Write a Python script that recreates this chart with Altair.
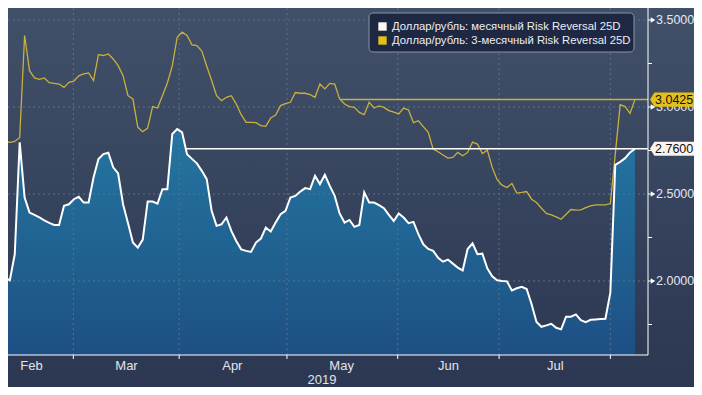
import altair as alt
import pandas as pd

# ---------------- data ----------------
series_names = [
    "Доллар/рубль: месячный Risk Reversal 25D",
    "Доллар/рубль: 3-месячный Risk Reversal 25D",
]

white_vals = [
    2.029, 2.019, 2.004, 2.154, 2.797, 2.480, 2.393, 2.380, 2.365, 2.349,
    2.334, 2.322, 2.322, 2.432, 2.441, 2.470, 2.484, 2.451, 2.451, 2.595,
    2.701, 2.729, 2.737, 2.653, 2.618, 2.441, 2.334, 2.221, 2.192, 2.238,
    2.457, 2.457, 2.445, 2.528, 2.528, 2.845, 2.873, 2.854, 2.729, 2.702,
    2.676, 2.633, 2.585, 2.403, 2.317, 2.326, 2.365, 2.288, 2.230, 2.182,
    2.173, 2.167, 2.221, 2.244, 2.307, 2.284, 2.336, 2.384, 2.403, 2.480,
    2.489, 2.514, 2.534, 2.528, 2.605, 2.557, 2.610, 2.547, 2.489, 2.388,
    2.336, 2.351, 2.311, 2.322, 2.509, 2.451, 2.451, 2.436, 2.418, 2.380,
    2.345, 2.388, 2.365, 2.332, 2.340, 2.269, 2.211, 2.184, 2.173, 2.134,
    2.111, 2.123, 2.100, 2.077, 2.061, 2.184, 2.217, 2.154, 2.157, 2.073,
    2.027, 2.004, 2.000, 1.998, 1.946, 1.958, 1.967, 1.954, 1.866, 1.764,
    1.737, 1.745, 1.754, 1.731, 1.722, 1.795, 1.795, 1.808, 1.775, 1.764,
    1.777, 1.779, 1.781, 1.783, 1.933, 2.668, 2.685, 2.706, 2.739, 2.760,
]

yellow_vals = [
    2.806, 2.802, 2.797, 2.802, 2.825, 3.411, 3.209, 3.167, 3.159, 3.167,
    3.140, 3.136, 3.132, 3.113, 3.142, 3.148, 3.179, 3.190, 3.196, 3.152,
    3.301, 3.296, 3.305, 3.276, 3.238, 3.180, 3.065, 3.046, 2.883, 2.858,
    2.879, 3.002, 2.994, 3.065, 3.138, 3.236, 3.401, 3.430, 3.411, 3.357,
    3.353, 3.321, 3.234, 3.152, 3.065, 3.036, 3.056, 3.065, 3.017, 2.956,
    2.912, 2.912, 2.910, 2.893, 2.889, 2.937, 2.954, 3.008, 3.019, 3.027,
    3.083, 3.079, 3.079, 3.071, 3.056, 3.132, 3.104, 3.136, 3.132, 3.046,
    3.017, 3.002, 2.998, 2.969, 2.956, 3.027, 2.994, 3.006, 2.998, 2.979,
    2.971, 2.960, 2.994, 2.983, 2.910, 2.921, 2.887, 2.854, 2.758, 2.743,
    2.724, 2.706, 2.710, 2.739, 2.720, 2.739, 2.798, 2.787, 2.733, 2.752,
    2.653, 2.582, 2.551, 2.537, 2.560, 2.505, 2.509, 2.514, 2.470, 2.451,
    2.418, 2.388, 2.380, 2.369, 2.355, 2.384, 2.411, 2.407, 2.409, 2.422,
    2.432, 2.438, 2.438, 2.438, 2.445, 2.729, 3.013, 3.002, 2.964, 3.0425,
]

month_names = ["Feb", "Mar", "Apr", "May", "Jun", "Jul"]
month_label_pos = [6.4, 25.7, 47.2, 69.4, 91.1, 112.8]     # in observation index units
month_start_pos = [14.9, 36.4, 58.3, 80.8, 101.4, 124.0]  # month boundaries (index units)
year_label = ["2019"]
year_label_pos = [65.4]
y_major = [2.0, 2.5, 3.0, 3.5]
y_minor = [1.75, 2.25, 2.75, 3.25]
X_DOMAIN = [1.625, 131.65]
Y_DOMAIN = [1.5747, 3.569]

# ---------------- layout / style ----------------
W, H = 640, 347
PR, PB = 46, 32
FONT = "Liberation Sans"
YELLOW_LINE = "#c9b13b"
YELLOW_BOX = "#e2c11c"
GRID = "#5d6f90"

xs = alt.Scale(domain=X_DOMAIN, nice=False, zero=False)
ys = alt.Scale(domain=Y_DOMAIN, nice=False, zero=False)


def X(f):
    return alt.X(f, type="quantitative", scale=xs, axis=None)


def Y(f):
    return alt.Y(f, type="quantitative", scale=ys, axis=None)


df = pd.DataFrame({"i": list(range(len(white_vals))), "white": white_vals, "yellow": yellow_vals})
one = pd.DataFrame({"k": [0]})


def cross_start(vals):
    last = vals[-1]
    for k in range(len(vals) - 2, -1, -1):
        if vals[k] >= last:
            return k + (vals[k] - last) / (vals[k] - vals[k + 1])
    return 0


last_df_w = pd.DataFrame({"start": [cross_start(white_vals)], "v": [white_vals[-1]],
                          "lab": [f"{white_vals[-1]:.4f}"]})
last_df_y = pd.DataFrame({"start": [cross_start(yellow_vals)], "v": [yellow_vals[-1]],
                          "lab": [f"{yellow_vals[-1]:.4f}"]})

bg = alt.Chart(one).mark_rect(
    color=alt.Gradient(gradient="linear",
                       stops=[alt.GradientStop(color="#415069", offset=0),
                              alt.GradientStop(color="#2c3752", offset=1)],
                       x1=0, x2=0, y1=0, y2=1)
).encode(x=alt.value(0), x2=alt.value(W + PR), y=alt.value(0), y2=alt.value(H + PB))

area = alt.Chart(df).mark_area(
    clip=True,
    color=alt.Gradient(gradient="linear",
                       stops=[alt.GradientStop(color="#2476a2", offset=0),
                              alt.GradientStop(color="#1f5d8d", offset=0.3),
                              alt.GradientStop(color="#1c3b78", offset=0.66),
                              alt.GradientStop(color="#1b1e5b", offset=1)],
                       x1=0, x2=0, y1=0, y2=1)
).encode(x=X("i"), y=Y("white"), y2=alt.value(H))

grid_h = alt.Chart(pd.DataFrame({"v": y_major})).mark_rule(
    strokeDash=[2, 3], color=GRID, strokeWidth=1
).encode(y=Y("v"), x=alt.value(0), x2=alt.value(W))

grid_v = alt.Chart(pd.DataFrame({"m": month_start_pos})).mark_rule(
    strokeDash=[2, 3], color=GRID, strokeWidth=1
).encode(x=X("m"), y=alt.value(0), y2=alt.value(H))

line_y = alt.Chart(df).mark_line(clip=True, color=YELLOW_LINE, strokeWidth=1.3).encode(x=X("i"), y=Y("yellow"))
line_w = alt.Chart(df).mark_line(clip=True, color="#ffffff", strokeWidth=2).encode(x=X("i"), y=Y("white"))

last_rule_w = alt.Chart(last_df_w).mark_rule(color="#ffffff", strokeWidth=1.5).encode(
    x=X("start"), x2=alt.value(W), y=Y("v"))
last_rule_y = alt.Chart(last_df_y).mark_rule(color=YELLOW_LINE, strokeWidth=1.5).encode(
    x=X("start"), x2=alt.value(W), y=Y("v"))

axis_right = alt.Chart(one).mark_rule(color="#ffffff", strokeWidth=1).encode(
    x=alt.value(W), y=alt.value(0), y2=alt.value(H))
axis_bottom = alt.Chart(one).mark_rule(color="#ffffff", strokeWidth=1).encode(
    x=alt.value(0), x2=alt.value(W), y=alt.value(H))

ticks_x = alt.Chart(pd.DataFrame({"m": month_start_pos})).mark_rule(color="#ffffff").encode(
    x=X("m"), y=alt.value(H), y2=alt.value(H + 4))
ticks_minor = alt.Chart(pd.DataFrame({"v": y_minor})).mark_rule(color="#ffffff").encode(
    y=Y("v"), x=alt.value(W), x2=alt.value(W + 4))
ticks_major = alt.Chart(pd.DataFrame({"v": y_major})).mark_rule(color="#ffffff").encode(
    y=Y("v"), x=alt.value(W), x2=alt.value(W + 4))
tri_major = alt.Chart(pd.DataFrame({"v": y_major})).mark_point(
    shape="triangle-right", filled=True, size=28, color="#ffffff", opacity=1
).encode(y=Y("v"), x=alt.value(W + 5))

ylab_df = pd.DataFrame({"v": y_major, "lab": [f"{v:.4f}" for v in y_major]})
ylabels = alt.Chart(ylab_df).mark_text(
    align="left", baseline="middle", fontSize=12.5, font=FONT, color="#e6e8ec"
).encode(y=Y("v"), x=alt.value(W + 8), text="lab:N")

mlab = alt.Chart(pd.DataFrame({"p": month_label_pos, "m": month_names})).mark_text(
    align="center", baseline="middle", fontSize=13, font=FONT, color="#e2e4e8"
).encode(x=X("p"), y=alt.value(H + 11), text="m:N")
ylab_year = alt.Chart(pd.DataFrame({"p": year_label_pos, "t": year_label})).mark_text(
    align="center", baseline="middle", fontSize=13, font=FONT, color="#e2e4e8"
).encode(x=X("p"), y=alt.value(H + 25), text="t:N")

BOX = "M -1 0 L -0.8 -0.32 L 1 -0.32 L 1 0.32 L -0.8 0.32 Z"
box_y = alt.Chart(last_df_y).mark_point(shape=BOX, filled=True, size=1936, color=YELLOW_BOX, opacity=1).encode(
    x=alt.value(W + 24), y=Y("v"))
box_w = alt.Chart(last_df_w).mark_point(shape=BOX, filled=True, size=1936, color="#fbf3ee", opacity=1).encode(
    x=alt.value(W + 24), y=Y("v"))
boxtxt_y = alt.Chart(last_df_y).mark_text(align="left", baseline="middle", fontSize=12.5, font=FONT,
                                          color="#111111").encode(x=alt.value(W + 7), y=Y("v"), text="lab:N")
boxtxt_w = alt.Chart(last_df_w).mark_text(align="left", baseline="middle", fontSize=12.5, font=FONT,
                                          color="#111111").encode(x=alt.value(W + 7), y=Y("v"), text="lab:N")

leg_box = alt.Chart(one).mark_rect(cornerRadius=4, fill="#1e2842", stroke="#8a93a6", strokeWidth=1).encode(
    x=alt.value(361), x2=alt.value(626), y=alt.value(5), y2=alt.value(44))
leg_sq_w = alt.Chart(one).mark_square(size=70, filled=True, color="#fdf8f5", opacity=1).encode(
    x=alt.value(374.5), y=alt.value(18.5))
leg_sq_y = alt.Chart(one).mark_square(size=70, filled=True, color=YELLOW_BOX, opacity=1).encode(
    x=alt.value(374.5), y=alt.value(32.5))
leg_t1 = alt.Chart(pd.DataFrame({"t": [series_names[0]]})).mark_text(
    align="left", baseline="middle", fontSize=11.3, font=FONT, color="#eceef2"
).encode(x=alt.value(384), y=alt.value(18.5), text="t:N")
leg_t2 = alt.Chart(pd.DataFrame({"t": [series_names[1]]})).mark_text(
    align="left", baseline="middle", fontSize=11.3, font=FONT, color="#eceef2"
).encode(x=alt.value(384), y=alt.value(32.5), text="t:N")

chart = alt.layer(
    bg, area, grid_h, grid_v, line_y, line_w, last_rule_w, last_rule_y,
    axis_right, axis_bottom, ticks_x, ticks_minor, ticks_major, tri_major,
    ylabels, mlab, ylab_year, box_y, box_w, boxtxt_y, boxtxt_w,
    leg_box, leg_sq_w, leg_sq_y, leg_t1, leg_t2,
).properties(
    width=W, height=H,
    padding={"left": 0, "top": 0, "right": PR, "bottom": PB},
    autosize=alt.AutoSizeParams(type="none"),
    background="#2e3a55",
).configure_view(strokeWidth=0)

chart.save("out.html", embed_options={"renderer": "svg", "actions": False})
